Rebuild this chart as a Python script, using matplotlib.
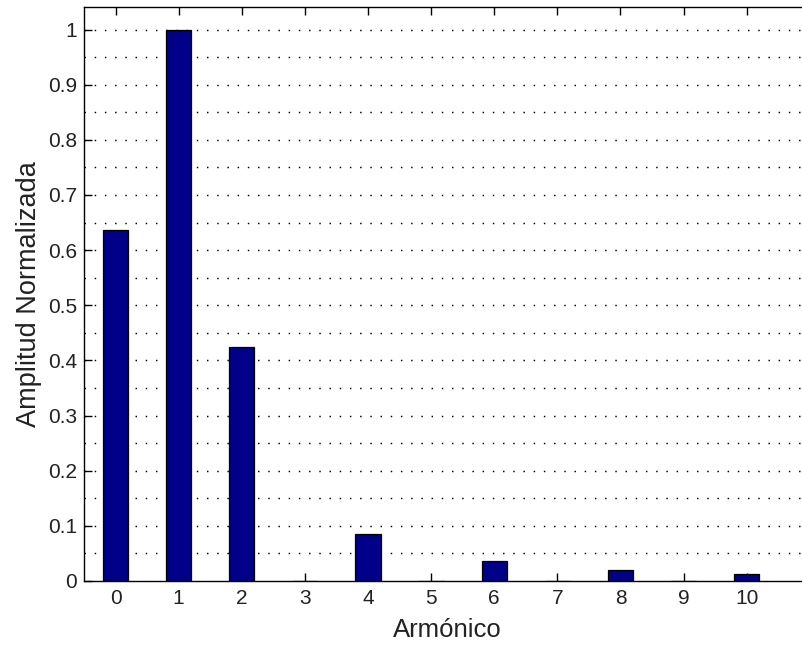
import numpy as np
import matplotlib
matplotlib.use("Agg")
import matplotlib.pyplot as plt

plt.rcParams['font.family'] = ['Liberation Sans', 'DejaVu Sans']

armonicos = [0, 1, 2, 3, 4, 5, 6, 7, 8, 9, 10]
amplitud = [0.636, 1.0, 0.424, 0.0, 0.085, 0.0, 0.036, 0.0, 0.020, 0.0, 0.013]
yticks = [0, 0.1, 0.2, 0.3, 0.4, 0.5, 0.6, 0.7, 0.8, 0.9, 1]
ytick_labels = ['0', '0.1', '0.2', '0.3', '0.4', '0.5', '0.6', '0.7', '0.8', '0.9', '1']

fig = plt.figure(figsize=(8.02, 6.49), dpi=100)
# axes run past the right edge, like the cropped original
ax = fig.add_axes([0.1047, 0.1048, 0.905, 0.8837])

# dotted horizontal grid every 0.05
for g in np.arange(0.05, 1.04, 0.05):
    ax.axhline(g, color='black', linestyle=(0, (1, 6)), linewidth=1.05, zorder=1)

ax.bar(armonicos, amplitud, width=0.4, color='#000088', edgecolor='black',
       linewidth=0.9, zorder=2)

ax.set_xlim(-0.5, 11)
ax.set_ylim(0, 1.04)
ax.set_xticks(armonicos)
ax.set_yticks(yticks)
ax.set_yticklabels(ytick_labels)
ax.tick_params(direction='in', length=5.5, width=1, labelsize=15, top=True,
               colors='black', labelcolor='#222222')
ax.tick_params(axis='x', pad=6)
ax.tick_params(axis='y', pad=5)
for s in ax.spines.values():
    s.set_linewidth(1)
ax.spines['right'].set_visible(False)

ax.set_xlabel('Armónico', fontsize=18.5, labelpad=7, color='#222222')
ax.set_ylabel('Amplitud Normalizada', fontsize=19.5, labelpad=4, color='#222222')

fig.savefig('out.png', dpi=100)
